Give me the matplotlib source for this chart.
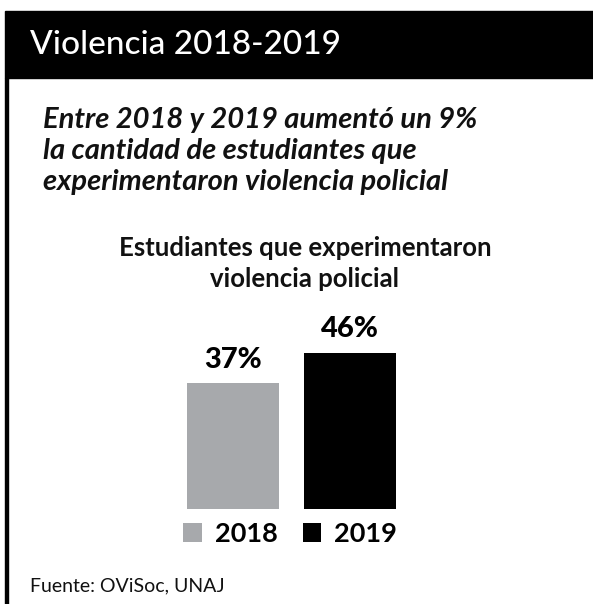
import matplotlib.pyplot as plt
from matplotlib.patches import Rectangle

plt.rcParams['font.family'] = ['Lato', 'DejaVu Sans']

years = ["2018", "2019"]
values = [37, 46]
colors = ["#a7a9ac", "#000000"]

W, H = 593, 604
fig = plt.figure(figsize=(W / 100, H / 100), dpi=100)


def fx(px):
    return px / W


def fy(py):
    # pixel measured from top -> figure fraction
    return 1 - py / H


# header bar and left border
fig.patches.append(Rectangle((fx(5), fy(78)), fx(W - 5), fy(11) - fy(78),
                             transform=fig.transFigure, color="black", zorder=0))
fig.patches.append(Rectangle((fx(5), 0), fx(3), fy(78),
                             transform=fig.transFigure, color="black", zorder=0))
fig.text(fx(30), fy(45), "Violencia 2018-2019", color="white", fontsize=24,
         weight="medium", va="center", ha="left")

# subtitle
sub_lines = ["Entre 2018 y 2019 aumentó un 9%",
             "la cantidad de estudiantes que",
             "experimentaron violencia policial"]
for i, line in enumerate(sub_lines):
    fig.text(fx(43), fy(128 + 31 * i), line, fontsize=21, style="italic",
             weight="bold", va="baseline", ha="left", color="#111111")

# chart title
title_lines = ["Estudiantes que experimentaron", "violencia policial"]
for i, line in enumerate(title_lines):
    fig.text(fx(305), fy(256 + 31 * i), line, fontsize=18.5, weight="bold",
             va="baseline", ha="center", color="#111111")

# bars
ax = fig.add_axes([fx(150), fy(509), fx(300), fy(300) - fy(509)])
bars = ax.bar(range(len(values)), values, width=92 / 117, color=colors)
ax.set_xlim(-83 / 117, -83 / 117 + 300 / 117)
ax.set_ylim(0, 209 / 3.4)
ax.axis("off")

for i, v in enumerate(values):
    ax.annotate(f"{v}%", (i, v), xytext=(0, 11), textcoords="offset points",
                ha="center", va="baseline", fontsize=21, weight="black")

fig.legend(bars, years, ncol=2, frameon=False, loc="center",
           bbox_to_anchor=(fx(290), fy(534)),
           handlelength=0.67, handleheight=0.67, handletextpad=0.48,
           columnspacing=0.93, borderpad=0, prop={"weight": "bold", "size": 19.5})

fig.text(fx(30), fy(591), "Fuente: OViSoc, UNAJ", fontsize=14, va="baseline",
         ha="left", color="#111111")

fig.savefig("out.png", dpi=100)
